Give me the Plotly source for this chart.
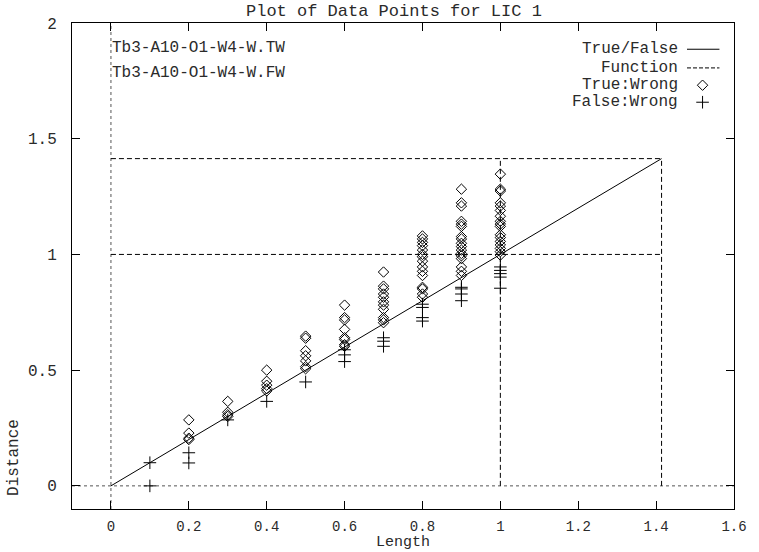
import plotly.graph_objects as go

# ---- data ----
lengths = [0.1, 0.2, 0.3, 0.4, 0.5, 0.6, 0.7, 0.8, 0.9, 1.0]

true_wrong = [
    [],
    [0.285, 0.228, 0.206, 0.20],
    [0.365, 0.318, 0.307, 0.30],
    [0.50, 0.452, 0.435, 0.42, 0.41],
    [0.647, 0.638, 0.584, 0.562, 0.54, 0.515, 0.506],
    [0.781, 0.727, 0.717, 0.676, 0.64, 0.632, 0.61, 0.603],
    [0.924, 0.863, 0.851, 0.829, 0.815, 0.795, 0.781, 0.763, 0.727, 0.717, 0.705],
    [1.08, 1.067, 1.052, 1.038, 1.019, 1.0, 0.99, 0.971, 0.946, 0.927, 0.909,
     0.858, 0.851, 0.829, 0.815],
    [1.282, 1.223, 1.209, 1.143, 1.131, 1.121, 1.077, 1.067, 1.048, 1.034,
     1.019, 1.004, 0.994, 0.982, 0.946, 0.927, 0.909],
    [1.347, 1.282, 1.274, 1.223, 1.209, 1.19, 1.165, 1.143, 1.131, 1.121,
     1.085, 1.073, 1.056, 1.041, 1.026, 1.012, 0.997],
]

false_wrong = [
    [0.10, 0.0],
    [0.143, 0.099],
    [0.285],
    [0.365],
    [0.449],
    [0.588, 0.566, 0.537],
    [0.64, 0.625, 0.603],
    [0.785, 0.771, 0.727, 0.712],
    [0.858, 0.851, 0.829, 0.80],
    [0.946, 0.931, 0.917, 0.902, 0.854],
]

diag = 1.414
truefalse_x = [0, diag]
truefalse_y = [0, diag]
function_x = [0, diag, None, 0, diag, None, 1, 1, None, diag, diag]
function_y = [1, 1, None, diag, diag, None, 0, diag, None, 0, diag]

x_ticks = [0, 0.2, 0.4, 0.6, 0.8, 1, 1.2, 1.4, 1.6]
y_ticks = [0, 0.5, 1, 1.5, 2]

legend_labels = ["True/False", "Function", "True:Wrong", "False:Wrong"]
file_labels = ["Tb3-A10-O1-W4-W.TW", "Tb3-A10-O1-W4-W.FW"]

# ---- build ----
tw_x, tw_y, fw_x, fw_y = [], [], [], []
for L, ys in zip(lengths, true_wrong):
    tw_x += [L] * len(ys)
    tw_y += ys
for L, ys in zip(lengths, false_wrong):
    fw_x += [L] * len(ys)
    fw_y += ys

FONT = "Liberation Mono"
TXT = "#2a2a2a"
FS = 16

fig = go.Figure()

fig.add_trace(go.Scatter(x=truefalse_x, y=truefalse_y, mode="lines",
                         line=dict(color="black", width=1), hoverinfo="skip"))
fig.add_trace(go.Scatter(x=function_x, y=function_y, mode="lines",
                         line=dict(color="black", width=1, dash="5px,3px"),
                         connectgaps=False, hoverinfo="skip"))
fig.add_trace(go.Scatter(x=tw_x, y=tw_y, mode="markers",
                         marker=dict(symbol="diamond-open", size=8, color="black",
                                     line=dict(width=1, color="black"))))
fig.add_trace(go.Scatter(x=fw_x, y=fw_y, mode="markers",
                         marker=dict(symbol="cross-thin-open", size=9, color="black",
                                     line=dict(width=1, color="black"))))

# legend samples on an overlay axis spanning the plot area
ly = [0.946, 0.9076, 0.872, 0.837]
lx0, lx1, lxm = 0.929, 0.978, 0.9525
fig.add_trace(go.Scatter(x=[lx0, lx1], y=[ly[0], ly[0]], mode="lines",
                         xaxis="x2", yaxis="y2", line=dict(color="black", width=1)))
fig.add_trace(go.Scatter(x=[lx0, lx1], y=[ly[1], ly[1]], mode="lines",
                         xaxis="x2", yaxis="y2",
                         line=dict(color="black", width=1, dash="4px,2px")))
fig.add_trace(go.Scatter(x=[lxm], y=[ly[2]], mode="markers", xaxis="x2", yaxis="y2",
                         marker=dict(symbol="diamond-open", size=8, color="black",
                                     line=dict(width=1, color="black"))))
fig.add_trace(go.Scatter(x=[lxm], y=[ly[3]], mode="markers", xaxis="x2", yaxis="y2",
                         marker=dict(symbol="cross-thin-open", size=9, color="black",
                                     line=dict(width=1, color="black"))))

annotations = []
for lab, yy in zip(legend_labels, ly):
    annotations.append(dict(text=lab, xref="paper", yref="paper", x=0.918, y=yy,
                            xanchor="right", yanchor="middle", showarrow=False,
                            font=dict(family=FONT, size=FS, color=TXT)))
for lab, yy in zip(file_labels, [0.9477, 0.8967]):
    annotations.append(dict(text=lab, xref="paper", yref="paper", x=0.0578, y=yy,
                            xanchor="left", yanchor="middle", showarrow=False,
                            font=dict(family=FONT, size=FS, color=TXT)))
annotations.append(dict(text="Plot of Data Points for LIC 1", xref="paper", yref="paper",
                        x=0.487, y=1.0, yshift=12, xanchor="center", yanchor="middle",
                        showarrow=False, font=dict(family=FONT, size=17, color=TXT)))
annotations.append(dict(text="Length", xref="paper", yref="paper", x=0.5, y=0,
                        yshift=-33, xanchor="center", yanchor="middle", showarrow=False,
                        font=dict(family=FONT, size=15, color=TXT)))
annotations.append(dict(text="Distance", xref="paper", yref="paper", x=0, y=0.105,
                        xshift=-58, xanchor="center", yanchor="middle", textangle=-90,
                        showarrow=False, font=dict(family=FONT, size=FS, color=TXT)))

shapes = [
    dict(type="line", xref="x", yref="paper", x0=0, x1=0, y0=0, y1=1,
         line=dict(color="#555555", width=1, dash="dot"), layer="below"),
    dict(type="line", xref="paper", yref="y", x0=0, x1=1, y0=0, y1=0,
         line=dict(color="#555555", width=1, dash="dot"), layer="below"),
]

axis_common = dict(showgrid=False, zeroline=False, showline=True, linecolor="black",
                   linewidth=1, mirror="ticks", ticks="inside", ticklen=8,
                   tickcolor="black", tickwidth=1, ticklabeloverflow="allow")

fig.update_layout(
    width=759, height=552,
    margin=dict(l=72, r=14, t=23, b=43),
    paper_bgcolor="white", plot_bgcolor="white",
    showlegend=False,
    xaxis=dict(range=[-0.1, 1.6], tickvals=x_ticks,
               ticktext=[str(v) for v in x_ticks], ticklabelstandoff=4,
               tickfont=dict(family=FONT, size=14, color=TXT), **axis_common),
    yaxis=dict(range=[-0.1, 2], tickvals=y_ticks,
               ticktext=[str(v) for v in y_ticks], ticklabelstandoff=11,
               tickfont=dict(family=FONT, size=FS, color=TXT), **axis_common),
    xaxis2=dict(range=[0, 1], overlaying="x", visible=False, fixedrange=True),
    yaxis2=dict(range=[0, 1], overlaying="y", visible=False, fixedrange=True),
    annotations=annotations,
    shapes=shapes,
)

fig.write_html("out.html", config={"displayModeBar": False},
               post_script="document.body.style.margin='0px';")
